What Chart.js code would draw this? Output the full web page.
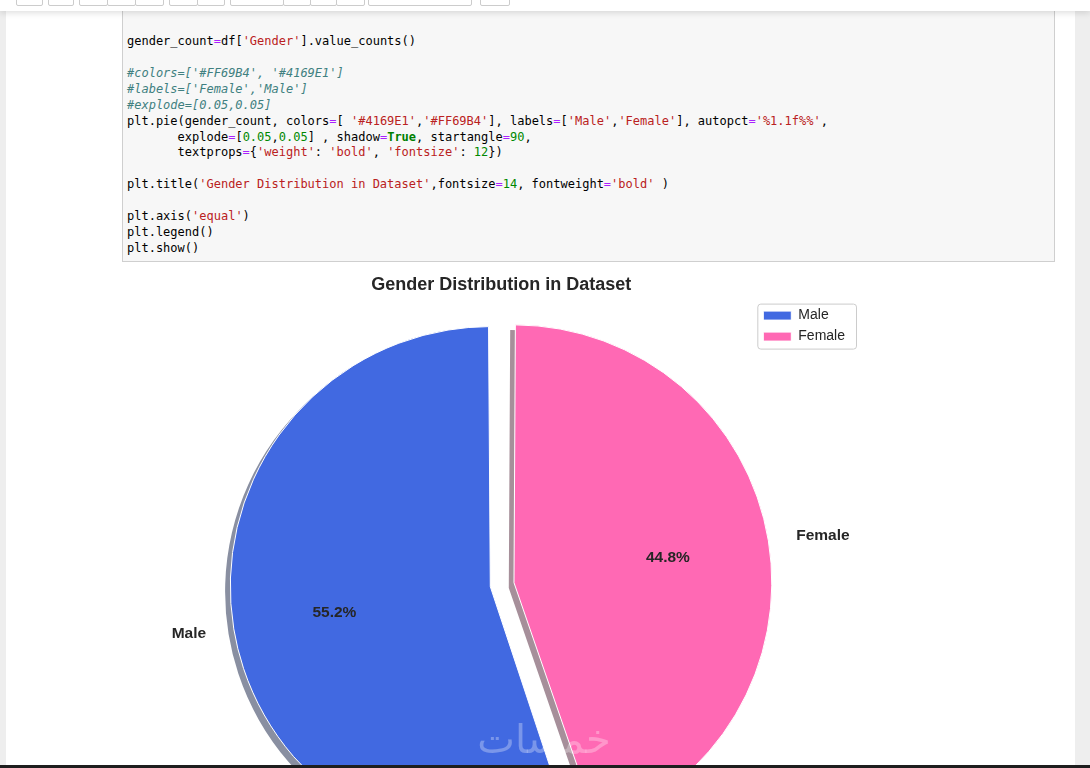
<!DOCTYPE html>
<html>
<head>
<meta charset="utf-8">
<script src="https://cdn.jsdelivr.net/npm/chart.js@4.4.0/dist/chart.umd.min.js"></script>
<style>
  html, body { margin: 0; padding: 0; width: 1090px; height: 768px; overflow: hidden; background: #eeeeee; }
  #toolbar { position: absolute; left: 0; top: 0; width: 1090px; height: 11px; background: #fff; box-shadow: 0 2px 6px rgba(0,0,0,0.13); z-index: 5; overflow: hidden; }
  #toolbar span { position: absolute; top: -20px; height: 26px; box-sizing: border-box; border: 1px solid #cccccc; border-radius: 2px; background: #fff; }
  #notebook { position: absolute; left: 6px; top: 11px; width: 1069px; height: 760px; background: #fff; }
  #cell { position: absolute; left: 122px; top: 0; width: 933px; height: 262px; box-sizing: border-box; background: #f7f7f7; border: 1px solid #cfcfcf; z-index: 1; }
  #code { position: absolute; left: 127px; top: 34px; margin: 0; font: 12px/15.92px "DejaVu Sans Mono", monospace; color: #000; z-index: 2; }
  .op { color: #aa22ff; }
  .st { color: #ba2121; }
  .cm { color: #408080; font-style: italic; }
  .nu { color: #008800; }
  .kw { color: #008000; font-weight: bold; }
  #chartBox { position: absolute; left: 122px; top: 262px; width: 760px; height: 606px; }
  #mark { position: absolute; left: 474px; top: 716px; width: 140px; text-align: center; font: 40px "DejaVu Sans", sans-serif; color: rgba(255,255,255,0.3); z-index: 3; }
  #taskbar { position: absolute; left: 0; top: 765px; width: 1090px; height: 3px; background: #1e1e1e; z-index: 4; }
</style>
</head>
<body>
<div id="toolbar">
  <span style="left:16px;width:27px"></span>
  <span style="left:48px;width:26px"></span>
  <span style="left:79px;width:29px"></span>
  <span style="left:107px;width:29px"></span>
  <span style="left:135px;width:29px"></span>
  <span style="left:169px;width:29px"></span>
  <span style="left:197px;width:28px"></span>
  <span style="left:230px;width:54px"></span>
  <span style="left:283px;width:28px"></span>
  <span style="left:310px;width:27px"></span>
  <span style="left:336px;width:29px"></span>
  <span style="left:368px;width:104px"></span>
  <span style="left:480px;width:30px"></span>
</div>
<div id="notebook"></div>
<div id="cell"></div>
<pre id="code">gender_count<span class="op">=</span>df[<span class="st">'Gender'</span>].value_counts()

<span class="cm">#colors=['#FF69B4', '#4169E1']</span>
<span class="cm">#labels=['Female','Male']</span>
<span class="cm">#explode=[0.05,0.05]</span>
plt.pie(gender_count, colors<span class="op">=</span>[ <span class="st">'#4169E1'</span>,<span class="st">'#FF69B4'</span>], labels<span class="op">=</span>[<span class="st">'Male'</span>,<span class="st">'Female'</span>], autopct<span class="op">=</span><span class="st">'%1.1f%%'</span>,
       explode<span class="op">=</span>[<span class="nu">0.05</span>,<span class="nu">0.05</span>] , shadow<span class="op">=</span><span class="kw">True</span>, startangle<span class="op">=</span><span class="nu">90</span>,
       textprops<span class="op">=</span>{<span class="st">'weight'</span>: <span class="st">'bold'</span>, <span class="st">'fontsize'</span>: <span class="nu">12</span>})

plt.title(<span class="st">'Gender Distribution in Dataset'</span>,fontsize<span class="op">=</span><span class="nu">14</span>, fontweight<span class="op">=</span><span class="st">'bold'</span> )

plt.axis(<span class="st">'equal'</span>)
plt.legend()
plt.show()</pre>
<div id="chartBox"><canvas id="genderChart"></canvas></div>
<div id="mark">خمسات</div>
<div id="taskbar"></div>

<script>
// Chart data
const genderLabels = ['Male', 'Female'];
const genderShares = [55.2, 44.8];
const genderColors = ['#4169E1', '#FF69B4'];

// matplotlib-like pie geometry (radius in px, explode as fraction of radius)
const PIE_R = 260;
const EXPLODE = 0.05;
const TEXT_COLOR = '#262626';

Chart.defaults.font.family = '"Liberation Sans", Arial, sans-serif';

// darker half-transparent copy of a colour, like matplotlib's Shadow patch
function shadowColor(hex) {
  const n = parseInt(hex.slice(1), 16);
  const r = Math.round(((n >> 16) & 255) * 0.3);
  const g = Math.round(((n >> 8) & 255) * 0.3);
  const b = Math.round((n & 255) * 0.3);
  return 'rgba(' + r + ',' + g + ',' + b + ',0.5)';
}

// Draw each wedge once more, shifted down-left, before the real wedges
const pieShadow = {
  id: 'pieShadow',
  beforeDatasetsDraw(chart) {
    const ctx = chart.ctx;
    const shift = 0.02 * PIE_R;
    ctx.save();
    ctx.translate(-shift, shift);
    chart.getDatasetMeta(0).data.forEach((arc, i) => {
      const ghost = Object.create(arc);
      ghost.options = Object.assign({}, arc.options, {
        backgroundColor: shadowColor(genderColors[i]),
        borderWidth: 0
      });
      Chart.ArcElement.prototype.draw.call(ghost, ctx);
    });
    ctx.restore();
  }
};

// Wedge labels (outside) and percentages (inside)
const pieLabels = {
  id: 'pieLabels',
  afterDatasetsDraw(chart) {
    const ctx = chart.ctx;
    const total = genderShares.reduce((a, b) => a + b, 0);
    ctx.save();
    ctx.fillStyle = TEXT_COLOR;
    ctx.font = 'bold 15.5px "Liberation Sans", Arial, sans-serif';
    ctx.textBaseline = 'middle';
    chart.getDatasetMeta(0).data.forEach((arc, i) => {
      const mid = (arc.startAngle + arc.endAngle) / 2;
      const cos = Math.cos(mid);
      const sin = Math.sin(mid);
      const ex = EXPLODE * PIE_R;

      const lr = ex + 1.1 * PIE_R;
      ctx.textAlign = cos < 0 ? 'right' : 'left';
      ctx.fillText(genderLabels[i], arc.x + lr * cos, arc.y + lr * sin);

      const pr = ex + 0.6 * PIE_R;
      ctx.textAlign = 'center';
      ctx.fillText((genderShares[i] / total * 100).toFixed(1) + '%', arc.x + pr * cos, arc.y + pr * sin);
    });
    ctx.restore();
  }
};

// Rounded frame around the legend entries
const legendFrame = {
  id: 'legendFrame',
  beforeDraw(chart) {
    const boxes = chart.legend && chart.legend.legendHitBoxes;
    if (!boxes || !boxes.length) return;
    const left = boxes[0].left - 6;
    const top = boxes[0].top - 5;
    const right = Math.max(...boxes.map(b => b.left + b.width)) + 11;
    const last = boxes[boxes.length - 1];
    const bottom = last.top + last.height + 5;
    const ctx = chart.ctx;
    ctx.save();
    ctx.beginPath();
    ctx.roundRect(left + 0.5, top + 0.5, right - left, bottom - top, 3);
    ctx.fillStyle = 'rgba(255,255,255,0.8)';
    ctx.fill();
    ctx.strokeStyle = '#cccccc';
    ctx.lineWidth = 1;
    ctx.stroke();
    ctx.restore();
  }
};

const total = genderShares.reduce((a, b) => a + b, 0);

new Chart(document.getElementById('genderChart'), {
  type: 'pie',
  data: {
    labels: genderLabels,
    datasets: [{
      data: genderShares,
      backgroundColor: genderColors,
      borderColor: '#ffffff',
      borderWidth: 1,
      // Chart.js moves an arc by offset/4 (and grows it a bit);
      // these values keep both wedges close to the same radius
      offset: [44, 52],
      clip: false
    }]
  },
  options: {
    responsive: true,
    maintainAspectRatio: false,
    animation: false,
    events: [],
    radius: 249,
    // matplotlib startangle=90 counter-clockwise: Male ends at 12 o'clock
    rotation: -360 * genderShares[0] / total,
    layout: {
      padding: { left: 124, right: 27, top: 0, bottom: 0 }
    },
    plugins: {
      title: {
        display: true,
        text: 'Gender Distribution in Dataset',
        color: TEXT_COLOR,
        fullSize: false,
        font: { size: 18, weight: 'bold' },
        padding: { top: 12, bottom: 6 }
      },
      legend: {
        display: true,
        position: 'right',
        align: 'start',
        fullSize: false,
        labels: {
          color: TEXT_COLOR,
          font: { size: 14 },
          boxWidth: 28,
          boxHeight: 9,
          padding: 7
        }
      },
      tooltip: { enabled: false }
    }
  },
  plugins: [pieShadow, pieLabels, legendFrame]
});
</script>
</body>
</html>
